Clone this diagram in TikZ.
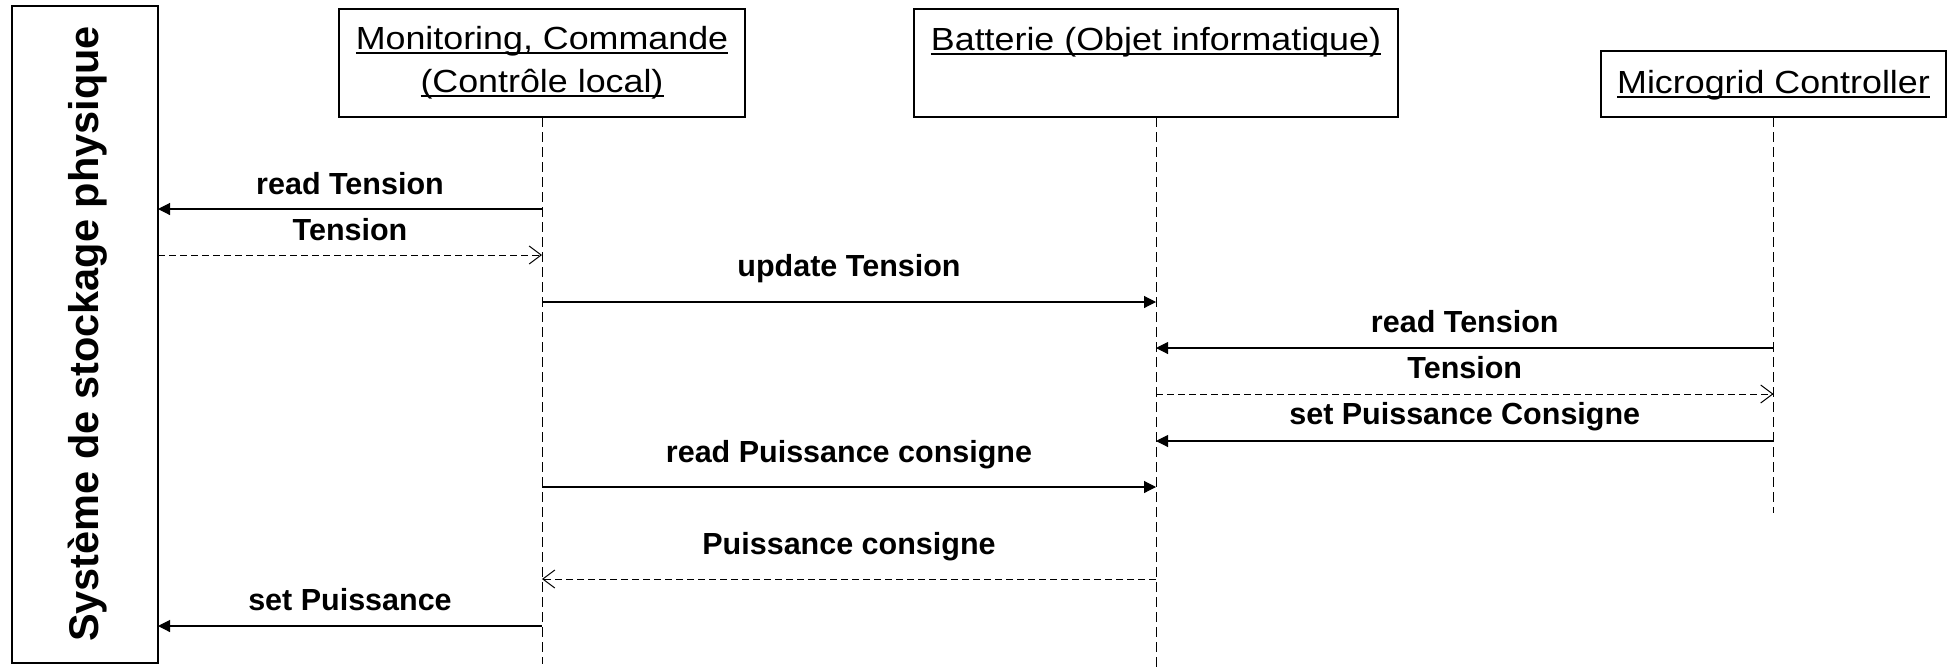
\documentclass[tikz,border=0pt]{standalone}
\usepackage{fontspec}
\setmainfont{Liberation Sans}
\newfontfamily\hdrfont[FakeStretch=1.12]{Liberation Sans}
\usetikzlibrary{arrows.meta}
\newsavebox\hdrbox
\newcommand\hdrul[1]{\sbox\hdrbox{#1}\rlap{\rule[-5pt]{\wd\hdrbox}{2pt}}\usebox\hdrbox}
\tikzset{
  box/.style={draw, line width=1.2pt, inner sep=0pt, outer sep=0pt},
  hdr/.style={font=\hdrfont\fontsize{32}{38}\selectfont, anchor=base, inner sep=0pt},
  lbl/.style={font=\bfseries\fontsize{30.5}{36}\selectfont, anchor=base, inner sep=0pt},
  life/.style={line width=0.9pt, dash pattern=on 10pt off 5pt},
  call/.style={line width=1.1pt, -{Triangle[length=12pt,width=12pt]}},
  ret/.style={line width=1pt, dash pattern=on 7pt off 4pt, -{Straight Barb[length=12pt,width=18pt]}},
}
\begin{document}
\begin{tikzpicture}[x=1pt,y=-1pt]
\useasboundingbox (0,0) rectangle (1953,670);
% boxes
\node[box, minimum width=146pt, minimum height=657pt] (sys) at (85,334.5) {};
\node[font=\bfseries\fontsize{41.5}{50}\selectfont, rotate=90, anchor=base, inner sep=0pt] (sysT) at (98,334) {Système de stockage physique};
\node[box, minimum width=406pt, minimum height=108pt] (mon) at (542,63) {};
\node[box, minimum width=484pt, minimum height=108pt] (bat) at (1156,63) {};
\node[box, minimum width=345pt, minimum height=66pt] (mic) at (1773.5,84) {};
% header texts
\node[hdr] (monT1) at (542,49) {\hdrul{Monitoring, Commande}};
\node[hdr] (monT2) at (542,92) {\hdrul{(Contrôle local)}};
\node[hdr] (batT) at (1156,50) {\hdrul{Batterie (Objet informatique)}};
\node[hdr] (micT) at (1773.5,93) {\hdrul{Microgrid Controller}};
% lifelines
\coordinate (monEnd) at (542,664);
\coordinate (batEnd) at (1156,670);
\coordinate (micEnd) at (1773.5,513);
\draw[life] (mon.south) -- (monEnd);
\draw[life] (bat.south) -- (batEnd);
\draw[life] (mic.south) -- (micEnd);
% message rows
\coordinate (r1) at (0,209);
\coordinate (r2) at (0,255);
\coordinate (r3) at (0,302);
\coordinate (r4) at (0,348);
\coordinate (r5) at (0,394);
\coordinate (r6) at (0,441);
\coordinate (r7) at (0,487);
\coordinate (r8) at (0,579);
\coordinate (r9) at (0,626);
% messages
\draw[call] (mon.south |- r1) -- node[lbl, yshift=15pt] {read Tension} (sys.east |- r1);
\draw[ret] (sys.east |- r2) -- node[lbl, yshift=15pt] {Tension} (mon.south |- r2);
\draw[call] (mon.south |- r3) -- node[lbl, yshift=26pt] {update Tension} (bat.south |- r3);
\draw[call] (mic.south |- r4) -- node[lbl, yshift=16pt] {read Tension} (bat.south |- r4);
\draw[ret] (bat.south |- r5) -- node[lbl, yshift=16pt] {Tension} (mic.south |- r5);
\draw[call] (mic.south |- r6) -- node[lbl, yshift=17pt] {set Puissance Consigne} (bat.south |- r6);
\draw[call] (mon.south |- r7) -- node[lbl, yshift=25pt] {read Puissance consigne} (bat.south |- r7);
\draw[ret] (bat.south |- r8) -- node[lbl, yshift=25pt] {Puissance consigne} (mon.south |- r8);
\draw[call] (mon.south |- r9) -- node[lbl, yshift=16pt] {set Puissance} (sys.east |- r9);
\end{tikzpicture}
\end{document}
